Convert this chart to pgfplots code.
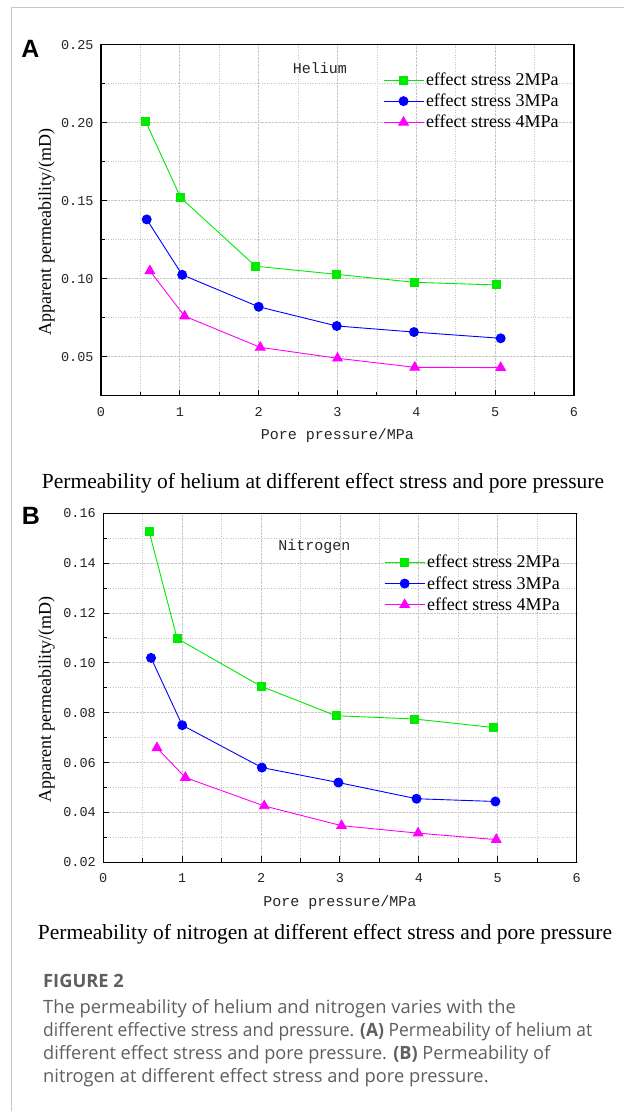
\documentclass[border=0pt]{standalone}
\usepackage{fontspec}
\setmainfont{Liberation Serif}
\newfontfamily\monofont{Liberation Mono}
\newfontfamily\capfont{Open Sans}
\newfontfamily\letterfont{Liberation Sans}
\usepackage{graphicx}
\usepackage{pgfplots}
\pgfplotsset{compat=1.18}

\definecolor{sgreen}{RGB}{0,235,0}
\definecolor{sblue}{RGB}{0,0,255}
\definecolor{smag}{RGB}{255,0,255}
\definecolor{capgray}{RGB}{95,95,95}
\definecolor{framegray}{RGB}{200,200,200}

\pgfplotsset{
  permstyle/.style={
    scale only axis,
    axis line style={line width=1.5pt},
    xmin=0, xmax=6, xtick={0,1,2,3,4,5,6},
    minor x tick num=1, minor y tick num=1,
    xtick pos=bottom, ytick pos=left, tick align=inside,
    major tick length=6pt, minor tick length=4pt,
    tick style={black, line width=1pt},
    grid=both,
    major grid style={gray!45, densely dotted, line width=0.8pt},
    minor grid style={gray!45, dotted, line width=0.7pt},
    /pgf/number format/assume math mode=true,
    ticklabel style={font=\monofont\fontsize{13.5}{13.5}\selectfont, text=black!85},
    xticklabel style={anchor=center, yshift=-16pt},
    yticklabel style={xshift=-4pt, /pgf/number format/fixed, /pgf/number format/fixed zerofill,
      /pgf/number format/precision=2},
    xlabel={Pore pressure/MPa},
    ylabel={Apparent permeability/(mD)},
    xlabel style={font=\monofont\fontsize{15}{15}\selectfont, text=black!85,
      at={(axis description cs:0.5,0)}, anchor=center, yshift=-40pt},
    ylabel style={font=\fontsize{18}{18}\selectfont, anchor=center},
    legend style={draw=none, fill=none, font=\fontsize{18}{18}\selectfont,
      inner sep=0pt, row sep=3pt, nodes={inner sep=2pt}},
    legend cell align=left,
    legend image code/.code={\draw[mark repeat=2,mark phase=2]
      plot coordinates {(0pt,0pt)(20pt,0pt)(40pt,0pt)};},
    every axis plot/.append style={line width=0.9pt},
  },
  gs/.style={color=sgreen, mark=square*, mark size=4pt, mark options={solid, fill=sgreen}},
  bs/.style={color=sblue, mark=*, mark size=4.5pt, mark options={solid, fill=sblue}},
  ms/.style={color=smag, mark=triangle*, mark size=5.5pt, mark options={solid, fill=smag}},
}

\begin{document}
\begin{tikzpicture}
\useasboundingbox (0,0) rectangle (624pt,-1111pt);
\fill[white] (0,0) rectangle (624pt,-1111pt);
\draw[framegray, line width=1pt] (11.7pt,-1111pt) -- (11.7pt,-7.5pt) -- (624pt,-7.5pt);

% A: helium
\node[font=\letterfont\bfseries\fontsize{25}{25}\selectfont] at (30.5pt,-49pt) {A};
\begin{axis}[permstyle,
  at={(101pt,-395.7pt)}, anchor=south west, width=473pt, height=351pt,
  ymin=0.025, ymax=0.25, ytick={0.05,0.10,0.15,0.20,0.25},
  ylabel style={at={(axis description cs:-0.115,0.467)}},
  legend style={at={(0.596,0.926)}, anchor=north west}]
\addplot[gs] coordinates {(0.565,0.201)(1.01,0.152)(1.96,0.108)(2.99,0.1028)(3.97,0.0977)(5.01,0.096)};
\addplot[bs] coordinates {(0.58,0.138)(1.03,0.1025)(2.0,0.082)(2.99,0.0697)(3.97,0.0658)(5.07,0.0618)};
\addplot[ms] coordinates {(0.62,0.105)(1.06,0.076)(2.02,0.056)(3.0,0.049)(3.98,0.0432)(5.07,0.043)};
\legend{effect stress 2MPa, effect stress 3MPa, effect stress 4MPa}
\end{axis}
\node[font=\monofont\fontsize{15}{15}\selectfont, text=black!85] at (320pt,-68.3pt) {Helium};
\node[font=\fontsize{21.5}{21.5}\selectfont] at (323pt,-483pt)
  {Permeability of helium at different effect stress and pore pressure};

% B: nitrogen
\node[font=\letterfont\bfseries\fontsize{25}{25}\selectfont] at (31pt,-516pt) {B};
\begin{axis}[permstyle,
  at={(103.3pt,-862.3pt)}, anchor=south west, width=473.4pt, height=349pt,
  ymin=0.02, ymax=0.16, ytick={0.02,0.04,0.06,0.08,0.10,0.12,0.14,0.16},
  ylabel style={at={(axis description cs:-0.12,0.467)}},
  legend style={at={(0.593,0.886)}, anchor=north west}]
\addplot[gs] coordinates {(0.58,0.1528)(0.935,0.1098)(2.0,0.0906)(2.95,0.0788)(3.94,0.0775)(4.94,0.0741)};
\addplot[bs] coordinates {(0.605,0.102)(1.0,0.075)(2.01,0.058)(2.98,0.052)(3.97,0.0455)(4.97,0.0444)};
\addplot[ms] coordinates {(0.68,0.0659)(1.04,0.054)(2.04,0.0426)(3.02,0.0347)(3.99,0.0317)(4.98,0.0291)};
\legend{effect stress 2MPa, effect stress 3MPa, effect stress 4MPa}
\end{axis}
\node[font=\monofont\fontsize{15}{15}\selectfont, text=black!85] at (314.5pt,-546.7pt) {Nitrogen};
\node[font=\fontsize{21.5}{21.5}\selectfont] at (325pt,-934pt)
  {Permeability of nitrogen at different effect stress and pore pressure};

% figure caption
\begin{scope}[every node/.style={anchor=base west, inner sep=0pt, text=capgray,
    font=\capfont\fontsize{18.3}{18.3}\selectfont}]
\node[font=\capfont\bfseries\fontsize{18.3}{18.3}\selectfont] at (43pt,-987pt) {FIGURE 2};
\node at (43pt,-1013pt) {The permeability of helium and nitrogen varies with the};
\node at (43pt,-1036pt) {\resizebox{549pt}{\height}{different effective stress and pressure. \textbf{(A)} Permeability of helium at}};
\node at (43pt,-1059pt) {\resizebox{507pt}{\height}{different effect stress and pore pressure. \textbf{(B)} Permeability of}};
\node at (43pt,-1082pt) {nitrogen at different effect stress and pore pressure.};
\end{scope}
\end{tikzpicture}
\end{document}
